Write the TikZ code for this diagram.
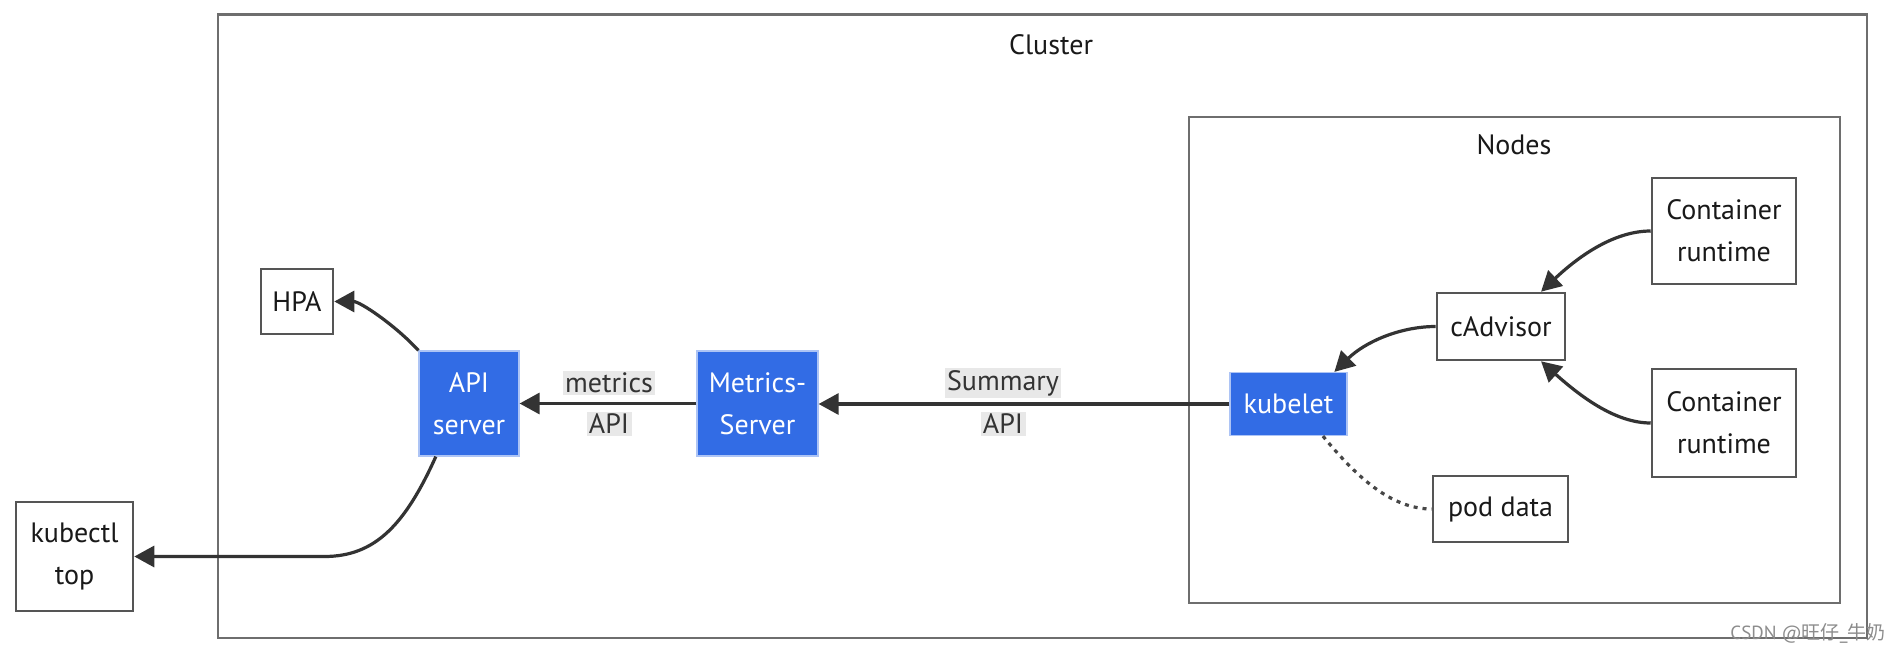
\documentclass[tikz,border=0pt]{standalone}
\usepackage{fontspec}
\setmainfont{PT Sans}
\newfontfamily\cjk{Noto Sans CJK SC}
\usetikzlibrary{arrows.meta,calc}
\definecolor{kblue}{RGB}{50,108,229}
\definecolor{edgec}{RGB}{51,51,51}
\definecolor{boxline}{RGB}{85,85,85}
\definecolor{grpline}{RGB}{110,110,110}
\definecolor{lblbg}{RGB}{232,232,232}
\begin{document}
\begin{tikzpicture}[x=0.5pt,y=-0.5pt,
  every node/.style={font=\fontsize{14pt}{21pt}\selectfont, align=center, inner sep=0pt, text=black!90},
  wbox/.style={draw=boxline, line width=1.3pt, fill=white},
  bbox/.style={draw=white!60!kblue, line width=0.6pt, fill=kblue, text=white},
  grp/.style={draw=grpline, line width=1.4pt},
  flow/.style={draw=edgec, line width=1.6pt, -{Triangle[length=10pt,width=10.5pt]}},
  podline/.style={draw=edgec!90, line width=1.6pt, dash pattern=on 2pt off 2.5pt},
  elbl/.style={fill=lblbg, text=edgec, inner sep=1.2pt},
]
\useasboundingbox (0,0) rectangle (1898,652);
\fill[white] (0,0) rectangle (1898,652);
% groups
\node[grp, minimum width=824.5pt, minimum height=311.75pt] (cluster) at (1042.5,326.25) {};
\node[grp, minimum width=325.5pt, minimum height=243pt] (nodesgrp) at (1514.5,360) {};
\node (cllabel) at (1051,45) {Cluster};
\node (ndlabel) at (1514,145) {Nodes};
% nodes
\node[wbox, minimum width=36pt, minimum height=32.5pt] (hpa) at (297,301.5) {HPA};
\node[bbox, minimum width=50pt, minimum height=52.5pt] (api) at (469,403.5) {API\\server};
\node[wbox, minimum width=58.5pt, minimum height=54.5pt] (kubectl) at (74.5,556.5) {kubectl\\top};
\node[bbox, minimum width=60.5pt, minimum height=52.5pt] (ms) at (757.5,403.5) {Metrics-\\Server};
\node[bbox, minimum width=58.5pt, minimum height=31.5pt] (kubelet) at (1288.5,404) {kubelet};
\node[wbox, minimum width=64pt, minimum height=33.5pt] (cadv) at (1501,326.5) {cAdvisor};
\node[wbox, minimum width=72pt, minimum height=53pt] (cr1) at (1724,231) {Container\\runtime};
\node[wbox, minimum width=72pt, minimum height=54pt] (cr2) at (1724,423) {Container\\runtime};
\node[wbox, minimum width=67.5pt, minimum height=33pt] (pod) at (1500.5,509) {pod data};
% edges
\draw[flow] (api.north west) .. controls (395,325) and (360,301.5) .. (hpa.east);
\coordinate (kc) at ($(kubectl.east)+(190,0)$);
\draw[flow] (api.-122) .. controls (405,525) and (375,556.5) .. (kc) -- (kubectl.east);
\draw[flow] (ms.west) -- (api.east);
\draw[flow] (kubelet.west) -- (kubelet.west -| ms.east);
\draw[flow] (cadv.west) .. controls (1400,326.5) and (1365,342) .. (kubelet.35);
\draw[flow] (cr1.west) .. controls (1615,231) and (1580,255) .. (cadv.41);
\draw[flow] (cr2.west) .. controls (1615,423) and (1580,396) .. (cadv.-41);
\draw[podline] (kubelet.-43) .. controls (1355,475) and (1390,509) .. (pod.west);
% edge labels
\node[elbl] (l1a) at (609,383) {metrics};
\node[elbl] (l1b) at (609,424) {API};
\node[elbl] (l2a) at (1003,383) {Summary};
\node[elbl] (l2b) at (1003,424) {API};
% watermark
\node[anchor=east, text=black!45, font=\fontsize{9.5pt}{11pt}\selectfont] (wm) at (1886,633) {CSDN @{\cjk 旺仔}\_{\cjk 牛奶}};
\end{tikzpicture}
\end{document}
